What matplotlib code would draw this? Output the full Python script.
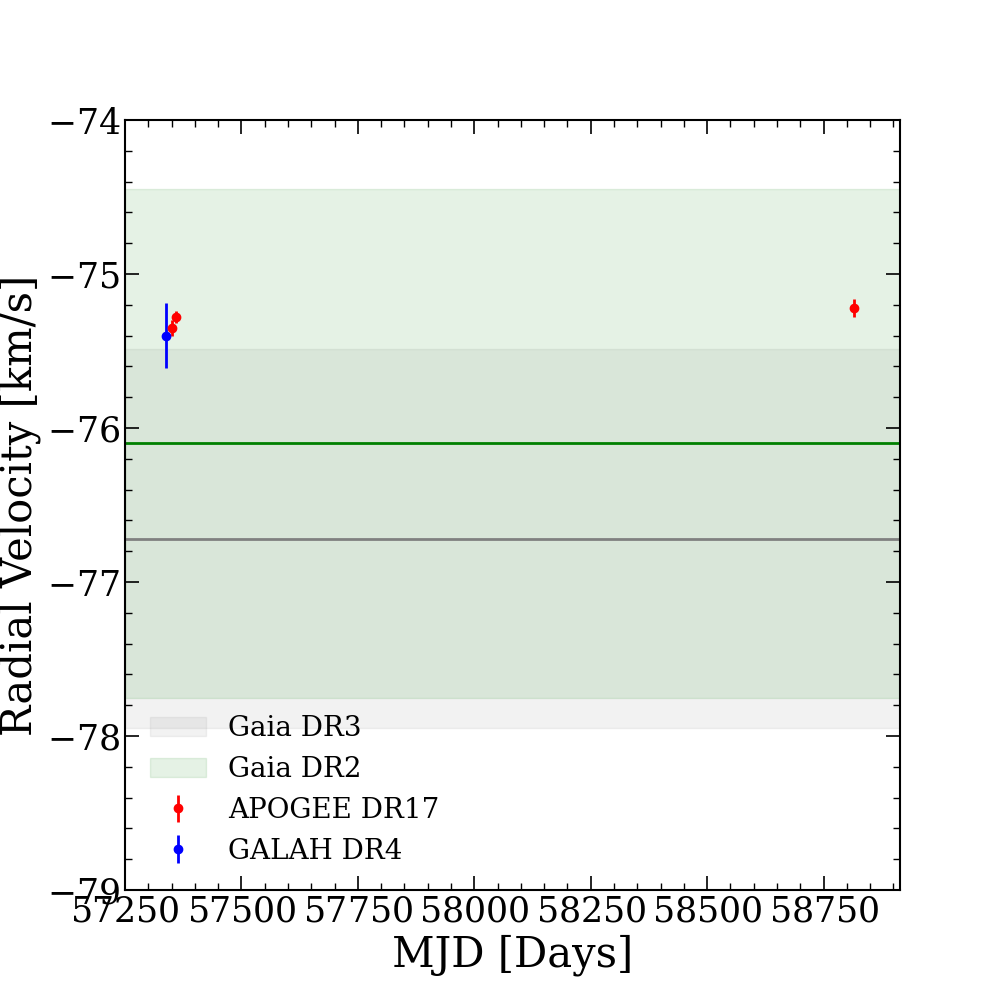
import numpy as np
from matplotlib import pyplot as plt
from matplotlib.ticker import MultipleLocator

# Gaia values (mean, error)
gaia_dr3 = (-76.72, 1.23)
gaia_dr2 = (-76.10, 1.65)

# APOGEE DR17 visits
apogee_mjd = [57350, 57360, 58816]
apogee_rv = [-75.35, -75.28, -75.22]
apogee_err = [0.05, 0.04, 0.06]

# GALAH DR4
galah_mjd = [57338]
galah_rv = [-75.40]
galah_err = [0.21]

plt.rcParams['font.family'] = 'DejaVu Serif'
plt.rcParams['mathtext.fontset'] = 'dejavuserif'
plt.rcParams['axes.formatter.use_mathtext'] = True

fig = plt.figure(figsize=(10, 10), dpi=100)
ax = fig.add_subplot(111)

ax.axhspan(gaia_dr3[0] - gaia_dr3[1], gaia_dr3[0] + gaia_dr3[1], color='gray', alpha=0.1, label='Gaia DR3')
ax.axhline(gaia_dr3[0], color='gray', lw=2)
ax.axhspan(gaia_dr2[0] - gaia_dr2[1], gaia_dr2[0] + gaia_dr2[1], color='green', alpha=0.1, label='Gaia DR2')
ax.axhline(gaia_dr2[0], color='green', lw=2)

ax.errorbar(apogee_mjd, apogee_rv, yerr=apogee_err, fmt='o', color='red', ms=6, elinewidth=2, label='APOGEE DR17')
ax.errorbar(galah_mjd, galah_rv, yerr=galah_err, fmt='o', color='blue', ms=6, elinewidth=2, label='GALAH DR4')

ax.set_xlim(57250, 58914)
ax.set_ylim(-79, -74)
ax.xaxis.set_major_locator(MultipleLocator(250))
ax.xaxis.set_minor_locator(MultipleLocator(50))
ax.yaxis.set_major_locator(MultipleLocator(1))
ax.yaxis.set_minor_locator(MultipleLocator(0.2))
ax.tick_params(which='both', direction='in', top=True, right=True, labelsize=25)
ax.tick_params(which='major', length=10, width=1.2)
ax.tick_params(which='minor', length=5, width=1)
for s in ax.spines.values():
    s.set_linewidth(1.5)

ax.set_xlabel('MJD [Days]', fontsize=30)
ax.set_ylabel('Radial Velocity [km/s]', fontsize=30)
ax.legend(loc='lower left', frameon=False, fontsize=20)

plt.savefig('out.png')
